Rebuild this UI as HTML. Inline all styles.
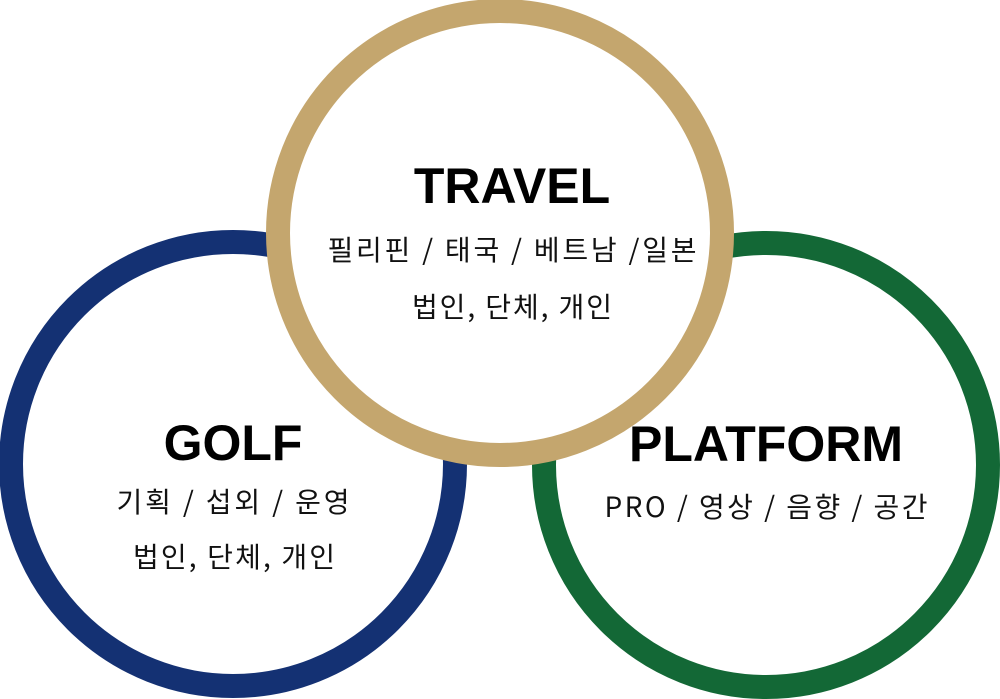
<!DOCTYPE html>
<html><head><meta charset="utf-8"><style>
html,body{margin:0;padding:0;background:#fff;width:1000px;height:699px;overflow:hidden}
svg{display:block}
.t{font-family:"Liberation Sans","Noto Sans CJK KR",sans-serif;font-weight:bold;font-size:50px;fill:#000;text-anchor:middle}
.k{font-family:"Noto Sans CJK KR",sans-serif;font-size:28px;fill:#111;text-anchor:middle}
</style></head><body>
<svg width="1000" height="699" viewBox="0 0 1000 699">
<circle cx="233" cy="464" r="222" fill="#fff" stroke="#143173" stroke-width="24"/>
<circle cx="766" cy="465" r="222" fill="#fff" stroke="#136836" stroke-width="24"/>
<circle cx="500" cy="233" r="222" fill="#fff" stroke="#c4a66e" stroke-width="24"/>
<text class="t" x="512" y="203">TRAVEL</text>
<text class="k" x="512" y="260" textLength="369" lengthAdjust="spacing">필리핀 / 태국 / 베트남 /일본</text>
<text class="k" x="512" y="317" textLength="200" lengthAdjust="spacing">법인, 단체, 개인</text>
<text class="t" x="233" y="460">GOLF</text>
<text class="k" x="233" y="512" textLength="233" lengthAdjust="spacing">기획 / 섭외 / 운영</text>
<text class="k" x="234" y="567" textLength="202" lengthAdjust="spacing">법인, 단체, 개인</text>
<text class="t" x="766" y="461">PLATFORM</text>
<text class="k" x="766" y="517" textLength="323" lengthAdjust="spacing">PRO / 영상 / 음향 / 공간</text>
</svg>
</body></html>
